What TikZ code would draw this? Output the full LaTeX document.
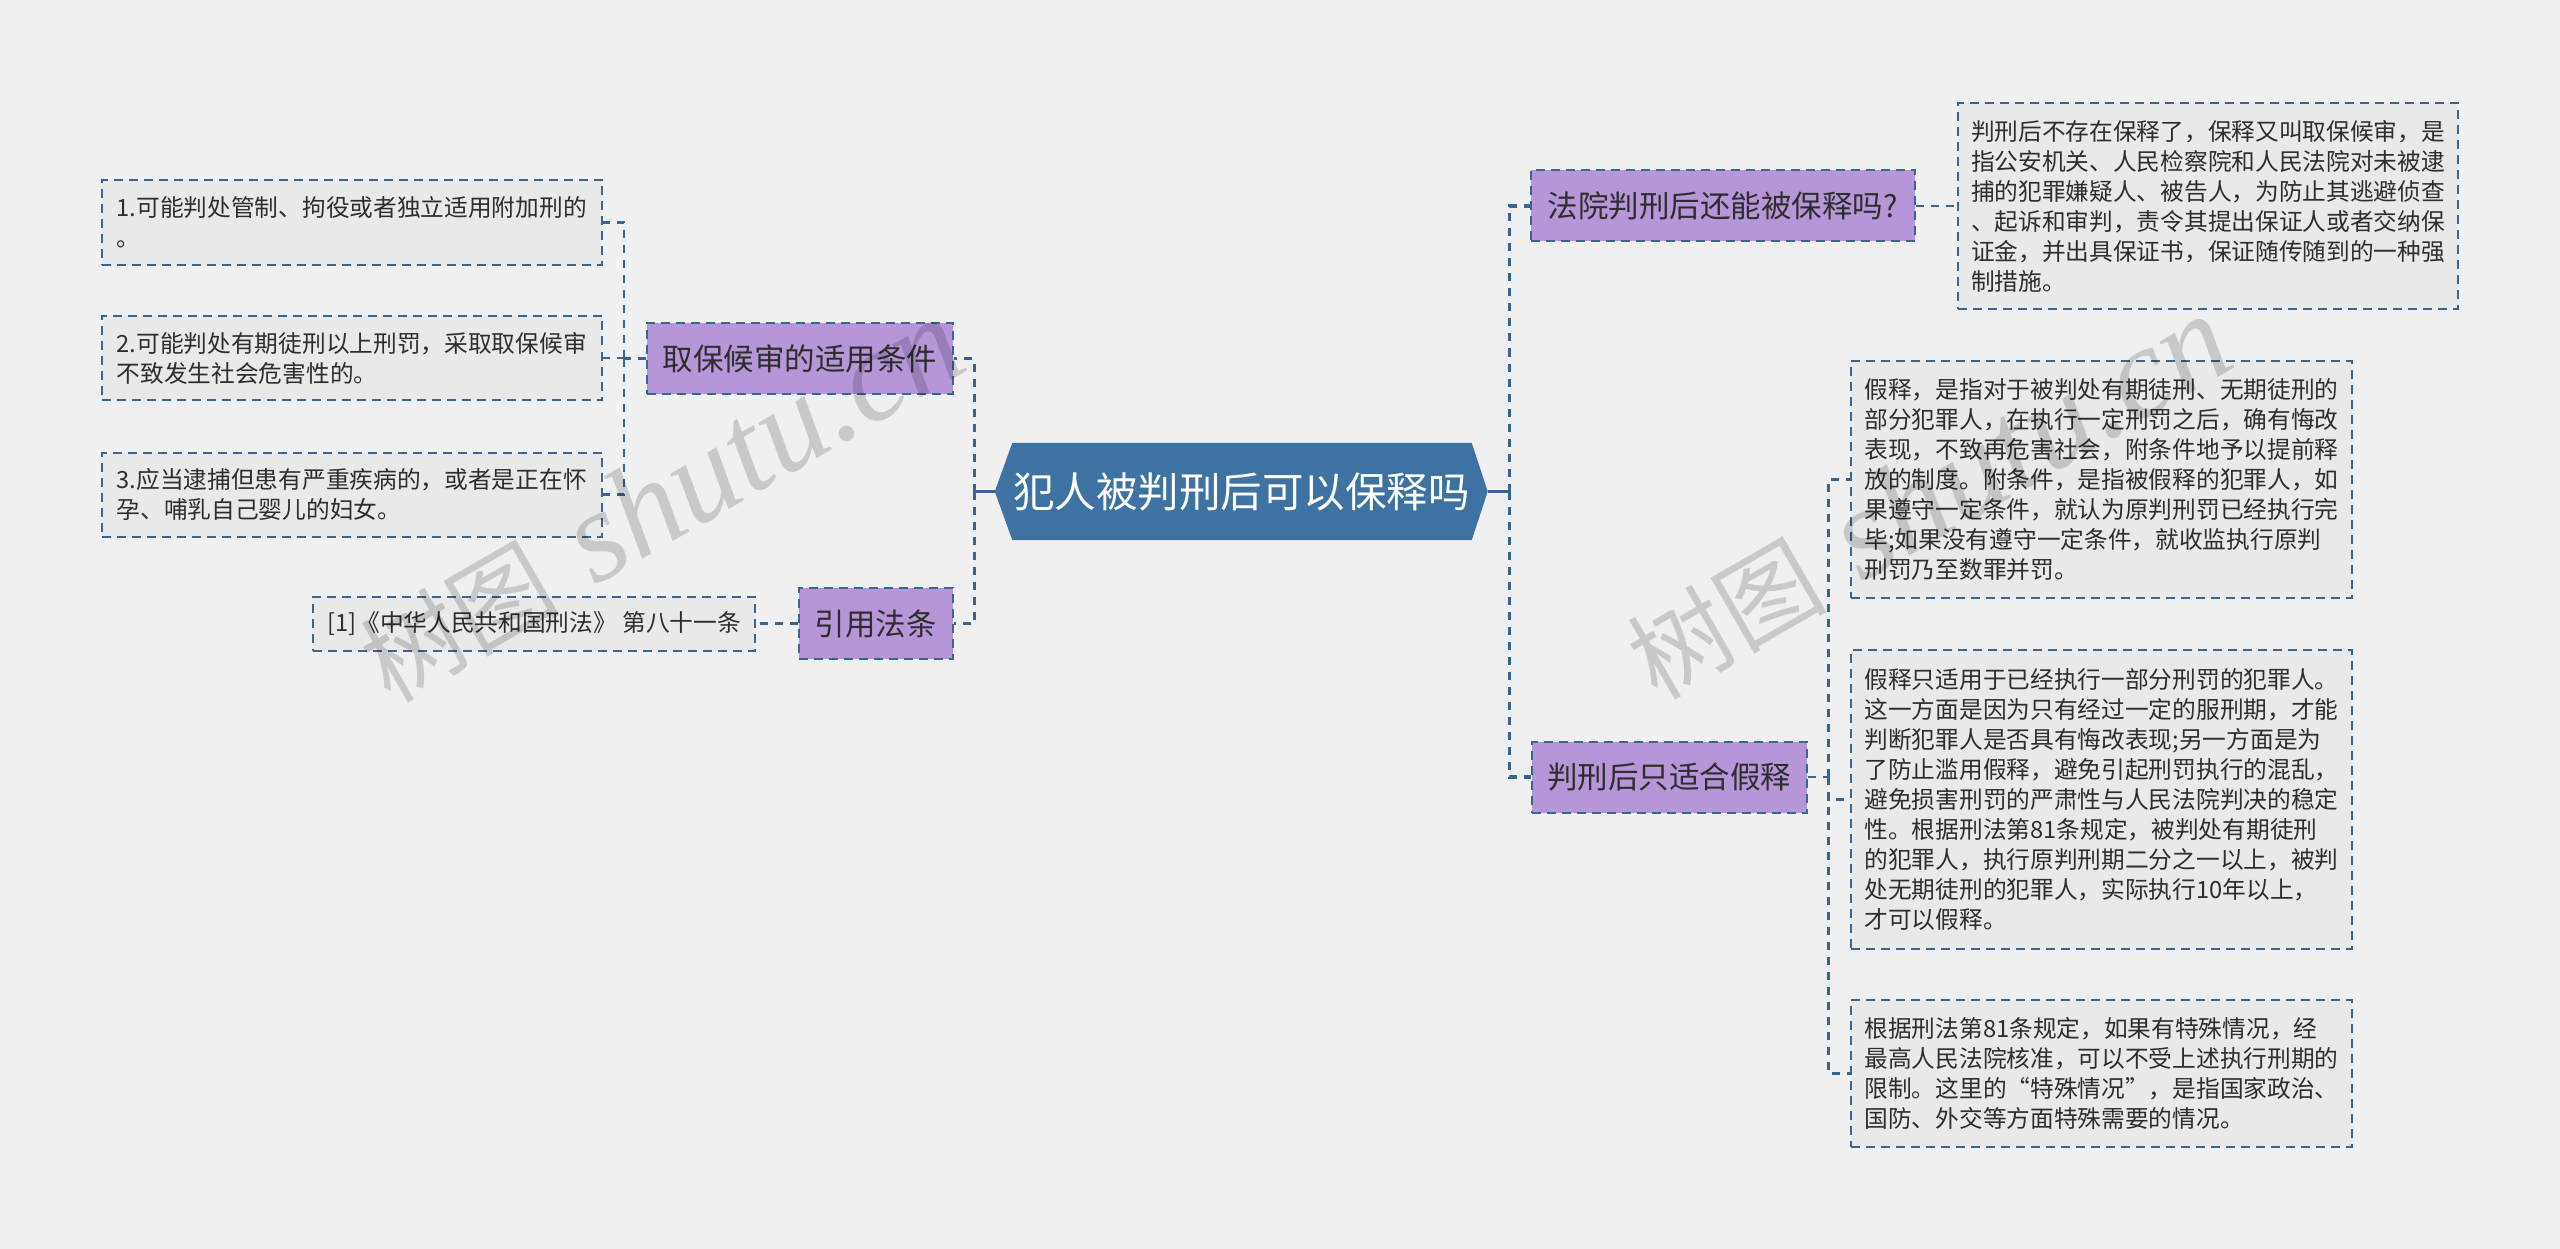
\documentclass[tikz,border=0pt]{standalone}
\usepackage{fontspec}
\newfontfamily\cjk{Noto Sans CJK SC}
\newfontfamily\wmserif{Liberation Serif}
\usetikzlibrary{backgrounds}
\definecolor{pagebg}{RGB}{240,240,240}
\definecolor{edgeblue}{RGB}{56,102,142}
\definecolor{centerfill}{RGB}{62,114,163}
\definecolor{topicfill}{RGB}{183,149,217}
\definecolor{leaffill}{RGB}{233,233,233}
\definecolor{inkdark}{RGB}{45,45,45}
\tikzset{
  leafbox/.style={draw=edgeblue, fill=leaffill, line width=2pt, dash pattern=on 9pt off 6pt,
    font=\cjk\fontsize{23.7}{30}\selectfont, text=inkdark, align=left, inner sep=0pt},
  topicbox/.style={draw=edgeblue, fill=topicfill, line width=2pt, dash pattern=on 9pt off 6pt,
    font=\cjk\fontsize{30.5}{36}\selectfont, text=inkdark, inner sep=0pt, minimum height=71pt},
  centerbox/.style={font=\cjk\fontsize{41.5}{50}\selectfont, text=white, inner sep=0pt,
    minimum width=492.5pt, minimum height=97pt},
  mainbus/.style={draw=edgeblue, line width=3.5pt, dash pattern=on 8pt off 7pt},
  mainstub/.style={draw=edgeblue, line width=3.5pt},
  conn/.style={draw=edgeblue, line width=2.5pt, dash pattern=on 8pt off 7pt},
  watermark/.style={text=black, text opacity=0.16, inner sep=0pt, rotate=30},
}
\begin{document}
\begin{tikzpicture}[x=1pt, y=-1pt]
\useasboundingbox (0,0) rectangle (2560,1249);

% central topic
\node[centerbox] (c) at (1241.25,491.5) {犯人被判刑后可以保释吗};
\begin{scope}[on background layer]
\fill[pagebg] (0,0) rectangle (2560,1249);
\fill[centerfill] (c.west) -- ([xshift=17.5pt]c.north west) -- ([xshift=-16pt]c.north east)
  -- (c.east) -- ([xshift=-16pt]c.south east) -- ([xshift=17.5pt]c.south west) -- cycle;
\end{scope}

% left branch
\node[topicbox, minimum width=306pt] (p1) at (800,358.5) {取保候审的适用条件};
\node[topicbox, minimum width=154pt] (p2) at (875.6,623.5) {引用法条};
\node[leafbox, minimum width=500.5pt, minimum height=85pt] (b1) at (351.75,222.5)
  {1.可能判处管制、拘役或者独立适用附加刑的\\。};
\node[leafbox, minimum width=500.5pt, minimum height=84pt] (b2) at (351.75,358)
  {2.可能判处有期徒刑以上刑罚，采取取保候审\\不致发生社会危害性的。};
\node[leafbox, minimum width=500.5pt, minimum height=84pt] (b3) at (351.75,494.7)
  {3.应当逮捕但患有严重疾病的，或者是正在怀\\孕、哺乳自己婴儿的妇女。};
\node[leafbox, minimum width=442pt, minimum height=54pt] (ref) at (534,623.5)
  {[1]《中华人民共和国刑法》 第八十一条};

% right branch
\node[topicbox, minimum width=384pt] (r1) at (1722.5,206) {法院判刑后还能被保释吗?};
\node[topicbox, minimum width=275pt] (r2) at (1669.2,777) {判刑后只适合假释};
\node[leafbox, minimum width=500pt, minimum height=206pt] (rt1) at (2208,206)
  {判刑后不存在保释了，保释又叫取保候审，是\\指公安机关、人民检察院和人民法院对未被逮\\捕的犯罪嫌疑人、被告人，为防止其逃避侦查\\、起诉和审判，责令其提出保证人或者交纳保\\证金，并出具保证书，保证随传随到的一种强\\制措施。};
\node[leafbox, minimum width=501pt, minimum height=237pt] (rb1) at (2101.5,479.5)
  {假释，是指对于被判处有期徒刑、无期徒刑的\\部分犯罪人，在执行一定刑罚之后，确有悔改\\表现，不致再危害社会，附条件地予以提前释\\放的制度。附条件，是指被假释的犯罪人，如\\果遵守一定条件，就认为原判刑罚已经执行完\\毕;如果没有遵守一定条件，就收监执行原判\\刑罚乃至数罪并罚。};
\node[leafbox, minimum width=501pt, minimum height=299pt] (rb2) at (2101.5,799.5)
  {假释只适用于已经执行一部分刑罚的犯罪人。\\这一方面是因为只有经过一定的服刑期，才能\\判断犯罪人是否具有悔改表现;另一方面是为\\了防止滥用假释，避免引起刑罚执行的混乱，\\避免损害刑罚的严肃性与人民法院判决的稳定\\性。根据刑法第81条规定，被判处有期徒刑\\的犯罪人，执行原判刑期二分之一以上，被判\\处无期徒刑的犯罪人，实际执行10年以上，\\才可以假释。};
\node[leafbox, minimum width=501pt, minimum height=147pt] (rb3) at (2101.5,1073.5)
  {根据刑法第81条规定，如果有特殊情况，经\\最高人民法院核准，可以不受上述执行刑期的\\限制。这里的“特殊情况”，是指国家政治、\\国防、外交等方面特殊需要的情况。};

% bus coordinates
\coordinate (lbus) at (974.3,491.5);
\coordinate (rbus) at (1509.5,491.5);
\coordinate (p1bus) at (624,358.5);
\coordinate (r2bus) at (1828.5,777);

% connectors
\draw[mainstub] (c.west) -- (lbus);
\draw[mainbus] (lbus) |- (p1.east);
\draw[mainbus] (lbus) |- (p2.east);
\draw[mainstub] (c.east) -- (rbus);
\draw[mainbus] (rbus) |- (r1.west);
\draw[mainbus] (rbus) |- (r2.west);

\draw[conn] (p1.west) -- (p1bus);
\draw[conn] (p1bus) |- (b1.east);
\draw[conn] (p1bus) |- (b2.east);
\draw[conn] (p1bus) |- (b3.east);
\draw[conn] (p2.west) -- (ref.east);

\draw[conn] (r1.east) -- (rt1.west);
\draw[conn] (r2.east) -- (r2bus);
\draw[conn] (r2bus) |- (rb1.west);
\draw[conn] (r2bus) |- (rb2.west);
\draw[conn] (r2bus) |- (rb3.west);

% watermarks
\node[watermark] (wm1) at (661,501)
  {{\cjk\fontsize{100}{110}\selectfont 树图}\hspace{36pt}{\wmserif\itshape\fontsize{130}{140}\selectfont shutu.cn}};
\node[watermark] (wm2) at (1928,498)
  {{\cjk\fontsize{100}{110}\selectfont 树图}\hspace{36pt}{\wmserif\itshape\fontsize{130}{140}\selectfont shutu.cn}};
\end{tikzpicture}
\end{document}
